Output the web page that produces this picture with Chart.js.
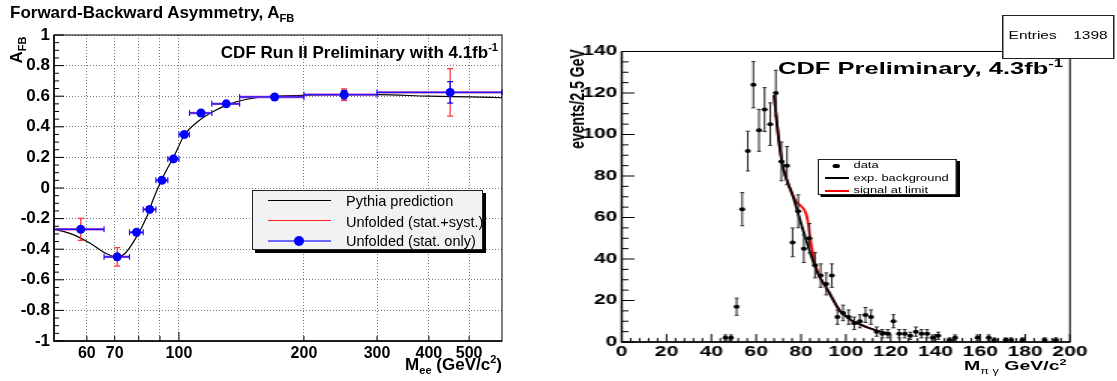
<!DOCTYPE html>
<html>
<head>
<meta charset="utf-8">
<script src="https://cdn.jsdelivr.net/npm/chart.js@4.4.1/dist/chart.umd.min.js"></script>
<style>
  html, body { margin: 0; padding: 0; background: #fff; }
  body { width: 1117px; height: 381px; position: relative; overflow: hidden;
         font-family: "Liberation Sans", Arial, Helvetica, sans-serif; color: #000; }
  canvas { position: absolute; left: 0; top: 0; display: block; }
  .abs { position: absolute; white-space: nowrap; line-height: 1; }
  .b { font-weight: bold; }
  sub, sup { font-size: 0.65em; line-height: 0; }
  .box { position: absolute; box-sizing: border-box; border: 1px solid #222; }
  .sw { position: absolute; }
</style>
</head>
<body>

<!-- left: forward-backward asymmetry -->
<div id="left" style="position:absolute;left:0;top:0;width:540px;height:381px;">
  <canvas id="afbChart" width="540" height="381"></canvas>
  <div class="abs b" style="left:10px;top:4px;font-size:17px;">Forward-Backward Asymmetry, A<sub>FB</sub></div>
  <div class="abs b" style="right:42px;top:44px;font-size:17px;">CDF Run II Preliminary with 4.1fb<sup>-1</sup></div>
  <div class="abs b" style="left:16px;top:50px;font-size:17px;transform:translate(-50%,-50%) rotate(-90deg);">A<sub>FB</sub></div>
  <div class="abs b" style="right:38px;top:356px;font-size:17px;">M<sub>ee</sub> (GeV/c<sup>2</sup>)</div>

  <div class="box" style="left:252px;top:190px;width:231px;height:60px;background:#f2f2f2;box-shadow:3px 3px 0 #000;">
    <div class="sw" style="left:15px;top:9px;width:63px;height:1px;background:#000;"></div>
    <div class="sw" style="left:15px;top:29px;width:63px;height:1px;background:#ff2020;"></div>
    <div class="sw" style="left:15px;top:49px;width:63px;height:2px;background:#6a6aff;"></div>
    <div class="sw" style="left:41px;top:45px;width:10px;height:10px;border-radius:50%;background:#0000ff;"></div>
    <div class="abs" style="left:93px;top:3px;font-size:14.5px;">Pythia prediction</div>
    <div class="abs" style="left:93px;top:23.5px;font-size:14.5px;">Unfolded (stat.+syst.)</div>
    <div class="abs" style="left:93px;top:43px;font-size:14.5px;">Unfolded (stat. only)</div>
  </div>
</div>

<!-- right: M(pi gamma) spectrum, drawn narrow and stretched like the original -->
<div id="right" style="position:absolute;left:540px;top:0;width:385px;height:381px;transform:scaleX(1.5);transform-origin:0 0;">
  <canvas id="mpgChart" width="385" height="381"></canvas>
  <div class="abs b" style="left:158.7px;top:59.6px;font-size:17px;">CDF Preliminary, 4.3fb<sup>-1</sup></div>
  <div class="abs b" style="left:24px;top:98.5px;font-size:14px;transform:translate(-50%,-50%) rotate(-90deg);">events/2.5 GeV</div>
  <div class="abs b" style="left:282.7px;top:359px;font-size:13px;">M<sub style="font-weight:normal">&pi; &gamma;</sub> GeV/c<sup>2</sup></div>

  <div class="box" style="left:308.4px;top:15px;width:75px;height:44px;background:#fff;">
    <div class="abs" style="left:3px;top:15px;font-size:10.3px;">Entries</div>
    <div class="abs" style="right:4px;top:15px;font-size:10.3px;">1398</div>
  </div>

  <div class="box" style="left:185.3px;top:159px;width:92.7px;height:36px;background:#fff;box-shadow:2px 2px 0 #000;">
    <div class="sw" style="left:9px;top:3.5px;width:4.5px;height:4.5px;border-radius:50%;background:#000;"></div>
    <div class="sw" style="left:3.7px;top:17px;width:16px;height:2px;background:#000;"></div>
    <div class="sw" style="left:3.7px;top:29.5px;width:16px;height:2px;background:#ff0000;"></div>
    <div class="abs" style="left:22.7px;top:0.9px;font-size:8.6px;">data</div>
    <div class="abs" style="left:22.7px;top:13.6px;font-size:8.6px;">exp. background</div>
    <div class="abs" style="left:22.7px;top:25.9px;font-size:8.6px;">signal at limit</div>
  </div>
</div>

<script>
// ---- left panel data: A_FB vs M_ee ----
const afbBinEdges = [50, 66, 76, 82, 88, 94, 100, 106, 120, 140, 200, 300, 600];
const afbMass     = [58, 71, 79, 85, 91, 97, 103, 113, 130, 170, 250, 450];
const afbValue    = [-0.27, -0.45, -0.29, -0.14, 0.05, 0.19, 0.35, 0.49, 0.55, 0.595, 0.61, 0.625];
const afbStatErr  = [0.015, 0.015, 0.012, 0.012, 0.012, 0.012, 0.012, 0.012, 0.012, 0.012, 0.028, 0.07];
const afbTotErr   = [0.072, 0.06, 0.015, 0.015, 0.015, 0.015, 0.015, 0.015, 0.015, 0.015, 0.038, 0.155];

const pythiaMass = [50, 55, 61, 67, 70.5, 74, 79, 83.6, 86.8, 90, 93, 97, 103, 110.5, 121, 132.8, 145.6, 168.7, 200, 250, 300, 400, 500, 600];
const pythiaAfb  = [-0.27, -0.30, -0.36, -0.43, -0.45, -0.43, -0.32, -0.19, -0.07, 0.03, 0.11, 0.20, 0.345, 0.43, 0.50, 0.55, 0.58, 0.60, 0.605, 0.61, 0.61, 0.60, 0.595, 0.59];

const afbXGrid   = [60, 70, 80, 90, 100, 200, 300, 400, 500];
const afbXLabels = [60, 70, 100, 200, 300, 400, 500];

// ---- right panel data: M(pi gamma) ----
const pgMass = [46.25, 48.75, 51.25, 53.75, 56.25, 58.75, 61.25, 63.75, 66.25, 68.75,
                71.25, 73.75, 76.25, 78.75, 81.25, 83.75, 86.25, 88.75, 91.25, 93.75,
                96.25, 98.75, 101.25, 103.75, 106.25, 108.75, 111.25, 113.75, 116.25, 118.75,
                121.25, 123.75, 126.25, 128.75, 131.25, 133.75, 136.25, 138.75, 141.25, 146.25,
                148.75, 158.75, 163.75, 166.25, 171.25, 173.75, 178.75, 188.75, 193.75];
const pgCounts = [2, 2, 17, 64, 92, 124, 102, 112, 105, 120,
                  87, 85, 48, 63, 45, 50, 37, 32, 28, 32,
                  12, 14, 12, 9, 10, 13, 12, 5, 4, 4,
                  10, 4, 4, 3, 5, 4, 4, 2, 3, 1,
                  2, 2, 2, 1, 1, 1, 1, 1, 1];

const bkgMass  = [68, 70, 72, 74, 76, 78, 80, 82, 84, 86, 88, 90, 92, 94, 96, 98, 100, 103, 106, 110, 115, 120];
const bkgCurve = [119, 98, 84, 77, 71.5, 64.6, 57.1, 50.1, 43.3, 37, 32, 28.3, 24.9, 21, 17.2, 14.2, 12.5, 10, 8.7, 6.9, 5.2, 3.9];
const sigMass  = [68, 70, 72, 74, 76, 78, 80, 82, 83, 84, 85, 86, 87, 88, 90, 92, 94, 96, 98, 100, 103, 106, 110, 115, 120];
const sigCurve = [119, 98, 84, 77, 71.5, 67.5, 65.5, 62.5, 58.5, 50.7, 44, 38.5, 35.2, 32, 28.3, 24.9, 21, 17.2, 14.2, 12.5, 10, 8.7, 6.9, 5.2, 3.9];

Chart.defaults.font.family = '"Liberation Sans", Arial, Helvetica, sans-serif';
Chart.defaults.color = "#000";

// frame + ROOT style inward tick marks
const frameTicks = {
  id: "frameTicks",
  afterDraw(chart, args, opts) {
    const { ctx, chartArea: a, scales: { x, y } } = chart;
    ctx.save();
    ctx.strokeStyle = "#000";
    ctx.lineWidth = 1;
    ctx.strokeRect(a.left, a.top, a.right - a.left, a.bottom - a.top);
    ctx.lineWidth = opts.axisWidth || 1.5;
    ctx.beginPath();
    ctx.moveTo(a.left, a.top); ctx.lineTo(a.left, a.bottom); ctx.lineTo(a.right, a.bottom);
    ctx.stroke();
    ctx.lineWidth = 1;
    (opts.yTicks || []).forEach(([v, len]) => {
      const py = y.getPixelForValue(v);
      ctx.beginPath(); ctx.moveTo(a.left, py); ctx.lineTo(a.left + len, py); ctx.stroke();
    });
    (opts.xTicks || []).forEach(([v, len]) => {
      const px = x.getPixelForValue(v);
      ctx.beginPath(); ctx.moveTo(px, a.bottom); ctx.lineTo(px, a.bottom - len); ctx.stroke();
    });
    ctx.restore();
  }
};

function seg(ctx, x0, y0, x1, y1, color, w) {
  ctx.strokeStyle = color;
  ctx.lineWidth = w;
  ctx.beginPath(); ctx.moveTo(x0, y0); ctx.lineTo(x1, y1); ctx.stroke();
}

const afbErrorBars = {
  id: "afbErrorBars",
  beforeDatasetDraw(chart, args) {
    if (args.index !== 1) return;
    const { ctx, scales: { x, y } } = chart;
    ctx.save();
    afbMass.forEach((m, i) => {
      const px = x.getPixelForValue(m);
      const py = y.getPixelForValue(afbValue[i]);
      const lo = x.getPixelForValue(afbBinEdges[i]);
      const hi = x.getPixelForValue(afbBinEdges[i + 1]);
      const tTop = y.getPixelForValue(afbValue[i] + afbTotErr[i]);
      const tBot = y.getPixelForValue(afbValue[i] - afbTotErr[i]);
      const sTop = y.getPixelForValue(afbValue[i] + afbStatErr[i]);
      const sBot = y.getPixelForValue(afbValue[i] - afbStatErr[i]);
      // stat + syst
      seg(ctx, px, tTop, px, tBot, "#ff2a2a", 1.2);
      seg(ctx, px - 3, tTop, px + 3, tTop, "#ff2a2a", 1.2);
      seg(ctx, px - 3, tBot, px + 3, tBot, "#ff2a2a", 1.2);
      seg(ctx, lo, py, hi, py, "#c040c0", 2.4);
      // stat only
      seg(ctx, px, sTop, px, sBot, "#0000ff", 1.2);
      seg(ctx, px - 3, sTop, px + 3, sTop, "#0000ff", 1.2);
      seg(ctx, px - 3, sBot, px + 3, sBot, "#0000ff", 1.2);
      seg(ctx, lo, py, hi, py, "#1a1aff", 1.2);
      seg(ctx, lo, py - 3, lo, py + 3, "#1a1aff", 1.2);
      seg(ctx, hi, py - 3, hi, py + 3, "#1a1aff", 1.2);
    });
    ctx.restore();
  }
};

const pgErrorBars = {
  id: "pgErrorBars",
  beforeDatasetDraw(chart, args) {
    if (args.index !== 0) return;
    const { ctx, scales: { x, y } } = chart;
    ctx.save();
    pgMass.forEach((m, i) => {
      const err = Math.sqrt(pgCounts[i]);
      const px = x.getPixelForValue(m);
      const top = y.getPixelForValue(pgCounts[i] + err);
      const bot = y.getPixelForValue(Math.max(pgCounts[i] - err, 0));
      seg(ctx, px, top, px, bot, "#222", 1);
      seg(ctx, px - 1.3, top, px + 1.3, top, "#222", 1);
      seg(ctx, px - 1.3, bot, px + 1.3, bot, "#222", 1);
    });
    ctx.restore();
  }
};

// tick mark lists (axis decoration only)
const afbYTicks = [];
for (let i = 0; i <= 40; i++) afbYTicks.push([-1 + i * 0.05, i % 4 === 0 ? 10 : 5]);
const afbXTicks = afbXGrid.map(v => [v, v === 100 ? 9 : 5]);
const pgYTicks = [];
for (let v = 0; v <= 140; v += 5) pgYTicks.push([v, v % 20 === 0 ? 8.5 : 4.5]);
const pgXTicks = [];
for (let v = 0; v <= 200; v += 4) pgXTicks.push([v, v % 20 === 0 ? 8 : 4]);

const dotted = { color: "#777", lineWidth: 1, drawTicks: false };
const noGrid = { display: false, drawTicks: false };

new Chart(document.getElementById("afbChart"), {
  type: "scatter",
  data: {
    datasets: [
      {
        label: "Pythia prediction",
        data: pythiaMass.map((m, i) => ({ x: m, y: pythiaAfb[i] })),
        showLine: true, borderColor: "#000", borderWidth: 1.2, pointRadius: 0,
        tension: 0.4, cubicInterpolationMode: "monotone", order: 2,
      },
      {
        label: "Unfolded (stat. only)",
        data: afbMass.map((m, i) => ({ x: m, y: afbValue[i] })),
        showLine: false, pointRadius: 4.5, pointBorderWidth: 0,
        pointBackgroundColor: "#0000ff", order: 1,
      },
    ],
  },
  options: {
    responsive: false, animation: false, devicePixelRatio: 1,
    layout: { padding: { top: 35, right: 38, left: 0, bottom: 0 } },
    plugins: {
      legend: { display: false }, tooltip: { enabled: false },
      frameTicks: { yTicks: afbYTicks, xTicks: afbXTicks, axisWidth: 1.5 },
    },
    scales: {
      x: {
        type: "logarithmic", min: 50, max: 600,
        afterFit: s => { s.height = 40; },
        afterBuildTicks: s => { s.ticks = afbXGrid.map(v => ({ value: v })); },
        ticks: {
          autoSkip: false, maxRotation: 0, padding: 3,
          font: { size: 16, weight: "bold" },
          callback: v => (afbXLabels.includes(v) ? String(v) : ""),
        },
        grid: dotted, border: { display: false, dash: [1, 2] },
      },
      y: {
        min: -1, max: 1,
        afterFit: s => { s.width = 54; },
        ticks: {
          stepSize: 0.2, padding: 4,
          font: { size: 17, weight: "bold" },
          callback: v => String(Math.round(v * 10) / 10),
        },
        grid: dotted, border: { display: false, dash: [1, 2] },
      },
    },
  },
  plugins: [frameTicks, afbErrorBars],
});

new Chart(document.getElementById("mpgChart"), {
  type: "scatter",
  data: {
    datasets: [
      {
        label: "data",
        data: pgMass.map((m, i) => ({ x: m, y: pgCounts[i] })),
        showLine: false, pointRadius: 2, pointBorderWidth: 0,
        pointBackgroundColor: "#000", order: 0,
      },
      {
        label: "exp. background",
        data: bkgMass.map((m, i) => ({ x: m, y: bkgCurve[i] })),
        showLine: true, borderColor: "#000", borderWidth: 1.8, pointRadius: 0,
        tension: 0.4, cubicInterpolationMode: "monotone", order: 1,
      },
      {
        label: "signal at limit",
        data: sigMass.map((m, i) => ({ x: m, y: sigCurve[i] })),
        showLine: true, borderColor: "#ff0000", borderWidth: 1.8, pointRadius: 0,
        tension: 0.4, cubicInterpolationMode: "monotone", order: 2,
      },
    ],
  },
  options: {
    responsive: false, animation: false, devicePixelRatio: 1,
    layout: { padding: { top: 51.5, right: 31.7, left: 0, bottom: 0 } },
    plugins: {
      legend: { display: false }, tooltip: { enabled: false },
      frameTicks: { yTicks: pgYTicks, xTicks: pgXTicks, axisWidth: 1.4 },
    },
    scales: {
      x: {
        min: 0, max: 200,
        afterFit: s => { s.height = 39; },
        ticks: { stepSize: 20, autoSkip: false, maxRotation: 0, padding: 2, font: { size: 14, weight: "bold" } },
        grid: noGrid, border: { display: false },
      },
      y: {
        min: 0, max: 140,
        afterFit: s => { s.width = 54.5; },
        ticks: { stepSize: 20, padding: 3, font: { size: 14, weight: "bold" } },
        grid: noGrid, border: { display: false },
      },
    },
  },
  plugins: [frameTicks, pgErrorBars],
});
</script>
</body>
</html>
